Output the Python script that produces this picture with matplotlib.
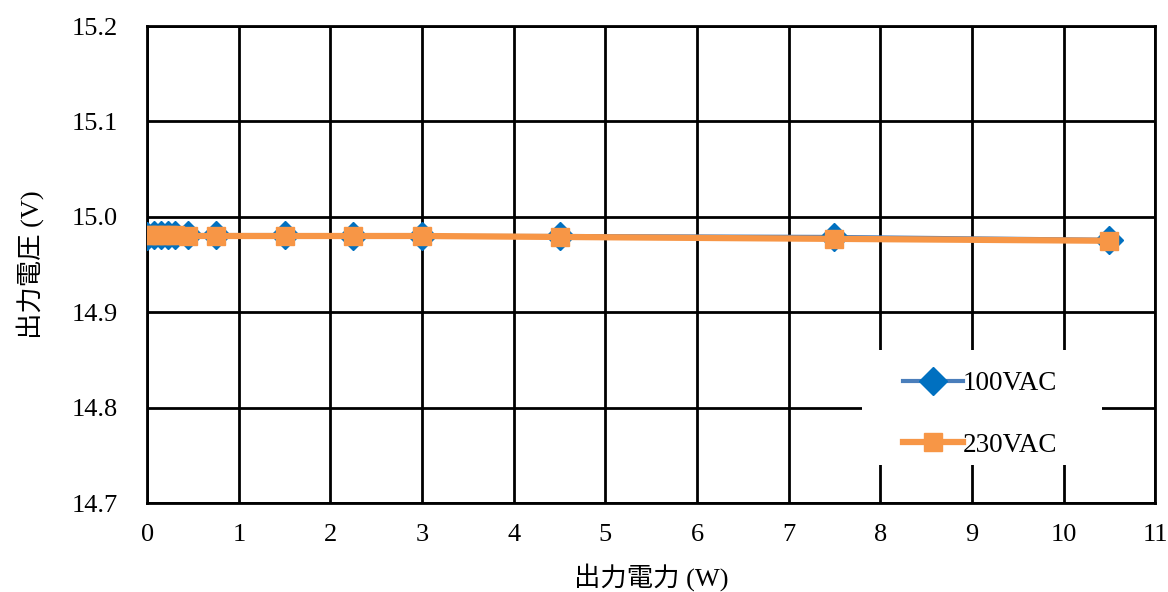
import matplotlib
matplotlib.use('Agg')
import matplotlib.pyplot as plt
from matplotlib.ticker import MultipleLocator
from matplotlib.patches import Rectangle

plt.rcParams['font.family'] = ['Liberation Serif', 'Noto Sans CJK JP']

# 出力電力 (W)
power = [0.0, 0.075, 0.15, 0.225, 0.3, 0.45, 0.75, 1.5, 2.25, 3.0, 4.5, 7.5, 10.5]
# 出力電圧 (V)
v100 = [14.980, 14.981, 14.981, 14.981, 14.981, 14.981, 14.981, 14.981, 14.980, 14.980, 14.980, 14.979, 14.976]
v230 = [14.981, 14.981, 14.981, 14.981, 14.981, 14.980, 14.980, 14.980, 14.980, 14.980, 14.979, 14.977, 14.975]

fig = plt.figure(figsize=(11.68, 5.92), dpi=100)
ax = fig.add_axes([0.126, 0.150, 0.863, 0.806])

ax.plot(power, v100, color='#4a7ebb', lw=3, marker='D', ms=14,
        mfc='#0070c0', mec='#0070c0', label='100VAC', zorder=3)
ax.plot(power, v230, color='#f79646', lw=4.5, marker='s', ms=13,
        mfc='#f79646', mec='#f79646', label='230VAC', zorder=4)

ax.set_xlim(0, 11)
ax.set_ylim(14.7, 15.2)
ax.xaxis.set_major_locator(MultipleLocator(1))
ax.yaxis.set_major_locator(MultipleLocator(0.1))
ax.yaxis.set_major_formatter(matplotlib.ticker.FormatStrFormatter('%.1f'))
ax.grid(True, color='black', lw=2)
ax.set_axisbelow(True)
for s in ax.spines.values():
    s.set_color('black')
    s.set_linewidth(2)
ax.tick_params(length=0, labelsize=19)
ax.tick_params(axis='x', pad=15)
ax.tick_params(axis='y', pad=21)

ax.set_xlabel('出力電力 (W)', fontsize=19, labelpad=12)
ax.set_ylabel('出力電圧 (V)', fontsize=19, labelpad=20)

# 凡例の白い背景
ax.add_patch(Rectangle((0.709, 0.08), 0.238, 0.241, transform=ax.transAxes,
                       facecolor='white', edgecolor='none', zorder=5))
leg = ax.legend(loc='upper left', bbox_to_anchor=(0.75, 0.277), fontsize=19.5,
                frameon=False, borderpad=0, labelspacing=1.35,
                handlelength=2.2, handletextpad=0.0, borderaxespad=0)
leg.set_zorder(6)

fig.savefig('out.png', dpi=100)
